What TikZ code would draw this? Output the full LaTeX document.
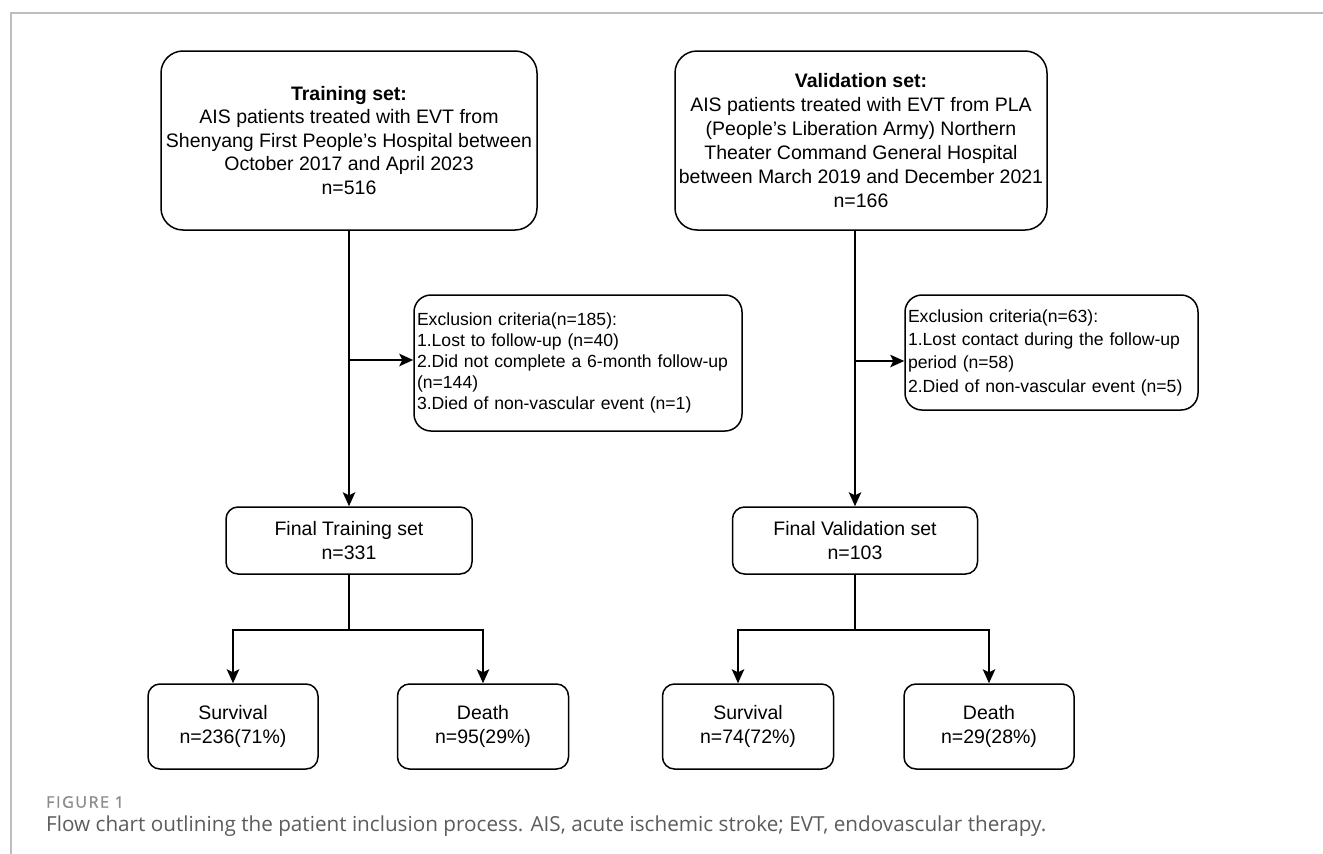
\documentclass[tikz,border=0pt]{standalone}
\usepackage{fontspec}
\setmainfont{Liberation Sans}
\newfontfamily\capfont{Open Sans}
\newfontfamily\figfont[FakeBold=1.2, LetterSpace=10]{Open Sans}
\usetikzlibrary{arrows.meta}
\definecolor{framegray}{HTML}{BDBDBD}
\definecolor{capgray}{HTML}{5C5C5C}
\definecolor{figgray}{HTML}{8C8C8C}
\newcommand{\boxfont}{\fontsize{19.5}{23.5}\selectfont}
\newcommand{\exfont}{\fontsize{17.6}{21}\selectfont}

\begin{document}
\begin{tikzpicture}[x=1pt, y=-1pt,
  setbox/.style={draw, line width=1.5pt, rounded corners=22pt, align=center, inner sep=1pt, font=\boxfont},
  exbox/.style={draw, line width=1.5pt, rounded corners=17pt, align=left, inner sep=3pt, font=\exfont},
  finbox/.style={draw, line width=1.5pt, rounded corners=12pt, align=center, inner sep=1pt, font=\boxfont},
  arr/.style={line width=1.6pt, -{Stealth[length=14pt, width=12.5pt, inset=3pt]}}]

\useasboundingbox (0,0) rectangle (1323,854);
\draw[framegray, line width=2pt] (1323,13) -- (11,13) -- (11,854);

% training branch
\node[setbox, minimum width=376pt, minimum height=179pt] (tset) at (349,140.5)
  {\textbf{Training set:}\\AIS patients treated with EVT from\\Shenyang First People's Hospital between\\October 2017 and April 2023\\n=516};
\node[exbox, text width=322pt, minimum height=136pt] (texc) at (578,363)
  {Exclusion criteria(n=185):\\1.Lost to follow-up (n=40)\\2.Did not complete a 6-month follow-up\\(n=144)\\3.Died of non-vascular event (n=1)};
\node[finbox, minimum width=246pt, minimum height=67pt] (tfin) at (349,540.5) {Final Training set\\n=331};
\node[finbox, minimum width=170pt, minimum height=85pt] (tsurv) at (233,726.5) {Survival\\n=236(71\%)};
\node[finbox, minimum width=171pt, minimum height=85pt] (tdeath) at (483,726.5) {Death\\n=95(29\%)};

% validation branch
\node[setbox, minimum width=372pt, minimum height=179pt, font=\fontsize{19.5}{24}\selectfont] (vset) at (861,140.5)
  {\textbf{Validation set:}\\AIS patients treated with EVT from PLA\\(People's Liberation Army) Northern\\Theater Command General Hospital\\between March 2019 and December 2021\\n=166};
\node[exbox, text width=287pt, minimum height=115pt, font=\fontsize{17.6}{23.3}\selectfont] (vexc) at (1051.5,352.5)
  {Exclusion criteria(n=63):\\1.Lost contact during the follow-up\\period (n=58)\\2.Died of non-vascular event (n=5)};
\node[finbox, minimum width=245pt, minimum height=67pt] (vfin) at (855,540.5) {Final Validation set\\n=103};
\node[finbox, minimum width=171pt, minimum height=85pt] (vsurv) at (748,726.5) {Survival\\n=74(72\%)};
\node[finbox, minimum width=170pt, minimum height=85pt] (vdeath) at (989,726.5) {Death\\n=29(28\%)};

\coordinate (tj) at ([yshift=3pt]texc.west);
\coordinate (vj) at ([yshift=-8.5pt]vexc.west);

\draw[arr] (tset.south) -- (tfin.north);
\draw[arr] (tset.south |- tj) -- (tj);
\draw[arr] (tfin.south) -- ++(0,55) -| (tsurv.north);
\draw[arr] (tfin.south) -- ++(0,55) -| (tdeath.north);

\draw[arr] (vset.south -| vfin.north) -- (vfin.north);
\draw[arr] (vfin.north |- vj) -- (vj);
\draw[arr] (vfin.south) -- ++(0,55) -| ([xshift=-10pt]vsurv.north);
\draw[arr] (vfin.south) -- ++(0,55) -| (vdeath.north);

% caption
\node[anchor=west, inner sep=0pt, text=figgray, font={\figfont\fontsize{16}{18}\selectfont}] (fig) at (46,802) {FIGURE 1};
\node[anchor=west, inner sep=0pt, text=capgray, font={\capfont\fontsize{20.7}{22}\selectfont}] (cap) at (46,826)
  {Flow chart outlining the patient inclusion process. AIS, acute ischemic stroke; EVT, endovascular therapy.};

\end{tikzpicture}
\end{document}
